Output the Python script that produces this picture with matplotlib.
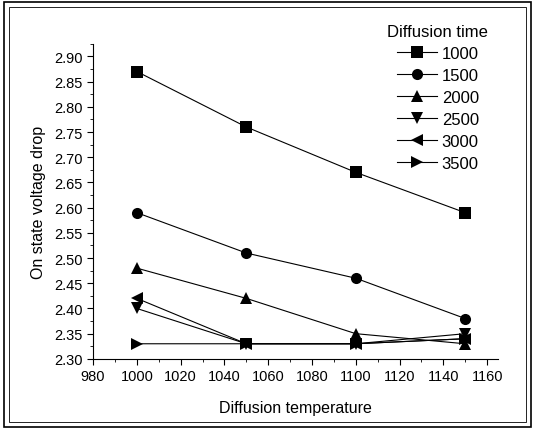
import numpy as np
import matplotlib.pyplot as plt
from matplotlib.patches import Rectangle
from matplotlib.ticker import MultipleLocator

# Data
temperature = [1000, 1050, 1100, 1150]
times = ["1000", "1500", "2000", "2500", "3000", "3500"]
v_1000 = [2.87, 2.76, 2.67, 2.59]
v_1500 = [2.59, 2.51, 2.46, 2.38]
v_2000 = [2.48, 2.42, 2.35, 2.33]
v_2500 = [2.40, 2.33, 2.33, 2.35]
v_3000 = [2.42, 2.33, 2.33, 2.34]
v_3500 = [2.33, 2.33, 2.33, 2.34]

series = [v_1000, v_1500, v_2000, v_2500, v_3000, v_3500]
markers = ["s", "o", "^", "v", "<", ">"]

plt.rcParams["font.family"] = "Liberation Sans"

fig = plt.figure(figsize=(5.35, 4.31), dpi=100)
ax = fig.add_axes([0.174, 0.165, 0.757, 0.731])

for vals, m, lab in zip(series, markers, times):
    ax.plot(temperature, vals, "-", marker=m, color="black", markersize=8,
            linewidth=0.8, markeredgewidth=0, label=lab)

ax.set_xlim(980, 1165)
ax.set_ylim(2.30, 2.925)
ax.xaxis.set_major_locator(MultipleLocator(20))
ax.xaxis.set_minor_locator(MultipleLocator(10))
ax.yaxis.set_major_locator(MultipleLocator(0.05))
ax.yaxis.set_minor_locator(MultipleLocator(0.025))
ax.yaxis.set_major_formatter(plt.FormatStrFormatter("%.2f"))
ax.tick_params(which="major", direction="out", length=4, labelsize=10.5)
ax.tick_params(which="minor", direction="out", length=2)
ax.spines["top"].set_visible(False)
ax.spines["right"].set_visible(False)

ax.set_xlabel("Diffusion temperature", fontsize=11.5, labelpad=12)
ax.set_ylabel("On state voltage drop", fontsize=11.5, labelpad=6)

leg = ax.legend(title="Diffusion time", frameon=False, fontsize=12,
                title_fontsize=12, loc="upper left",
                bbox_to_anchor=(0.71, 1.085), handlelength=2.4,
                handletextpad=0.3, labelspacing=0.42, borderaxespad=0)

# double frame around the figure
fig.patches.append(Rectangle((0.008, 0.008), 0.984, 0.984, transform=fig.transFigure,
                             fill=False, edgecolor="black", linewidth=1.2))
fig.patches.append(Rectangle((0.016, 0.018), 0.968, 0.964, transform=fig.transFigure,
                             fill=False, edgecolor="black", linewidth=0.6))

fig.savefig("out.png", dpi=100)
